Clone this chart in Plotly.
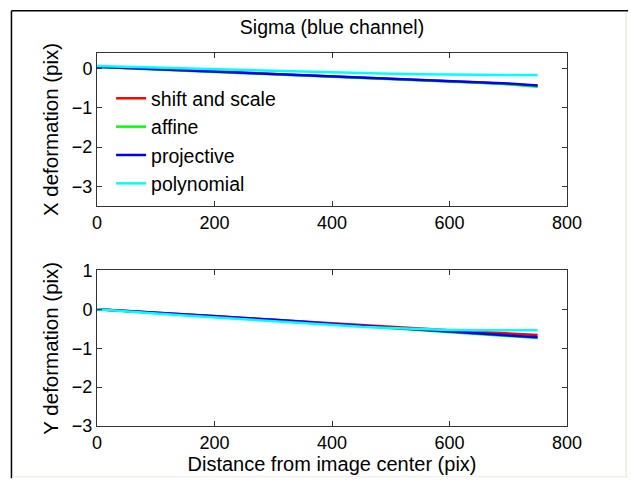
import plotly.graph_objects as go
from plotly.subplots import make_subplots

# Distance from image center (pix)
distance = [0, 50, 100, 150, 200, 250, 300, 350, 400, 450, 500, 550, 600, 650, 700, 750]

# X deformation (pix) per model
x_shift_scale = [0.05, 0.02, -0.01, -0.04, -0.07, -0.10, -0.13, -0.16, -0.19, -0.22, -0.25, -0.28, -0.32, -0.35, -0.39, -0.44]
x_affine = [0.04, 0.01, -0.02, -0.05, -0.08, -0.11, -0.14, -0.17, -0.20, -0.23, -0.26, -0.29, -0.33, -0.36, -0.40, -0.46]
x_projective = [0.05, 0.02, -0.01, -0.04, -0.07, -0.10, -0.13, -0.16, -0.19, -0.22, -0.25, -0.28, -0.31, -0.35, -0.38, -0.43]
x_polynomial = [0.07, 0.05, 0.03, 0.01, -0.02, -0.04, -0.06, -0.08, -0.10, -0.11, -0.13, -0.14, -0.15, -0.16, -0.16, -0.16]

# Y deformation (pix) per model
y_shift_scale = [0.0, -0.04, -0.08, -0.13, -0.17, -0.22, -0.26, -0.31, -0.36, -0.40, -0.45, -0.49, -0.54, -0.58, -0.62, -0.66]
y_affine = [0.0, -0.05, -0.10, -0.14, -0.19, -0.24, -0.28, -0.33, -0.39, -0.43, -0.48, -0.53, -0.59, -0.64, -0.69, -0.74]
y_projective = [0.0, -0.04, -0.09, -0.13, -0.18, -0.22, -0.27, -0.32, -0.38, -0.42, -0.47, -0.52, -0.57, -0.62, -0.67, -0.72]
y_polynomial = [0.0, -0.06, -0.11, -0.16, -0.21, -0.26, -0.31, -0.36, -0.41, -0.45, -0.48, -0.51, -0.53, -0.54, -0.54, -0.54]

model_names = ["shift and scale", "affine", "projective", "polynomial"]
model_colors = ["#ff0000", "#00ff00", "#0000ff", "#00ffff"]

x_tick_vals = [0, 200, 400, 600, 800]
top_y_ticks = [0, -1, -2, -3]
bottom_y_ticks = [1, 0, -1, -2, -3]

FONT = "Liberation Sans, Arial, Helvetica, sans-serif"

fig = make_subplots(rows=2, cols=1, vertical_spacing=0.17)

x_series = [x_shift_scale, x_affine, x_projective, x_polynomial]
y_series = [y_shift_scale, y_affine, y_projective, y_polynomial]

for name, color, xs in zip(model_names, model_colors, x_series):
    fig.add_trace(go.Scatter(x=distance, y=xs, mode="lines", name=name,
                             legendgroup=name,
                             line=dict(color=color, width=2.5)), row=1, col=1)
for name, color, ys in zip(model_names, model_colors, y_series):
    fig.add_trace(go.Scatter(x=distance, y=ys, mode="lines", name=name,
                             legendgroup=name, showlegend=False,
                             line=dict(color=color, width=2.5)), row=2, col=1)

axis_style = dict(showline=True, linecolor="#333333", linewidth=1, mirror="ticks",
                  ticks="inside", ticklen=5, tickcolor="#333333", showgrid=False,
                  zeroline=False, tickfont=dict(family=FONT, size=18, color="black"))

fig.update_xaxes(range=[0, 800], tickvals=x_tick_vals, **axis_style)
fig.update_yaxes(**axis_style)
fig.update_yaxes(range=[-3.5, 0.4], tickvals=top_y_ticks, domain=[0.59, 1.0],
                 title=dict(text="X deformation (pix)", font=dict(family=FONT, size=20.5, color="black"), standoff=7),
                 row=1, col=1)
fig.update_yaxes(range=[-3, 1], tickvals=bottom_y_ticks, domain=[0.0, 0.417],
                 title=dict(text="Y deformation (pix)", font=dict(family=FONT, size=20.5, color="black"), standoff=7),
                 row=2, col=1)
fig.update_xaxes(title=dict(text="Distance from image center (pix)",
                            font=dict(family=FONT, size=20, color="black"), standoff=1),
                 row=2, col=1)

# figure frame
frame = dict(type="line", xref="paper", yref="paper")
fig.add_shape(x0=-0.182, x1=1.13, y0=1.113, y1=1.113, line=dict(color="black", width=1.5), **frame)
fig.add_shape(x0=-0.182, x1=-0.182, y0=1.113, y1=-0.14, line=dict(color="black", width=1.5), **frame)
fig.add_shape(x0=1.1255, x1=1.1255, y0=1.11, y1=-0.14, line=dict(color="#e4e2dc", width=1), **frame)
fig.add_shape(x0=-0.18, x1=1.13, y0=-0.136, y1=-0.136, line=dict(color="#eeece6", width=1), **frame)

fig.update_layout(
    width=631, height=480,
    margin=dict(l=97, r=64, t=53, b=52),
    paper_bgcolor="white", plot_bgcolor="white",
    title=dict(text="Sigma (blue channel)", x=0.5, xanchor="center", xref="paper",
               y=1 - 27 / 480, yanchor="middle",
               font=dict(family=FONT, size=19.5, color="black")),
    showlegend=True,
    legend=dict(x=0.03, y=0.93, xanchor="left", yanchor="top",
                bgcolor="rgba(0,0,0,0)", borderwidth=0, tracegroupgap=0,
                font=dict(family=FONT, size=19.5, color="black"), itemwidth=30),
)

fig.write_html("out.html")
